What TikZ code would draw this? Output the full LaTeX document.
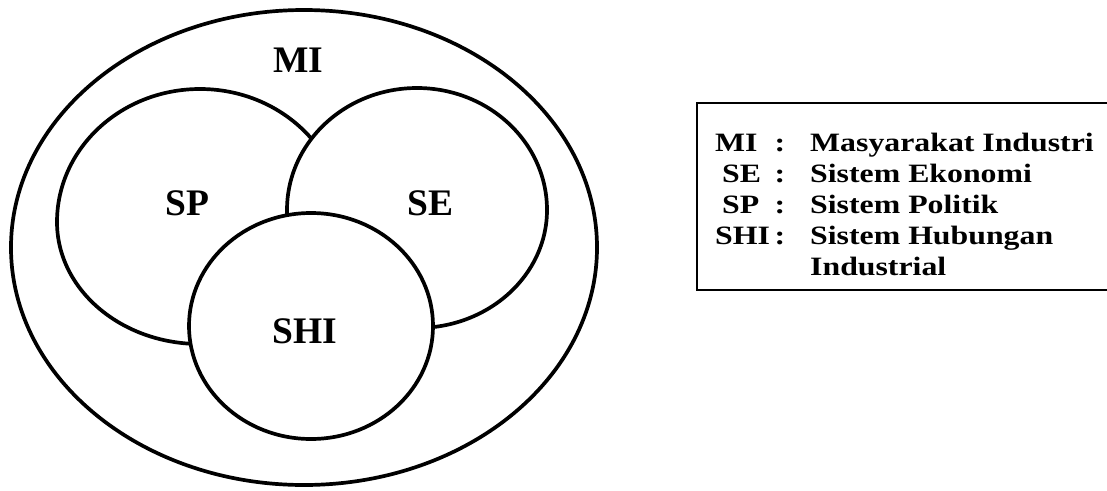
\documentclass[tikz,border=0pt]{standalone}
\usepackage{fontspec}
\setmainfont{Liberation Serif}
\newfontfamily\legendfont[FakeStretch=1.2]{Liberation Serif}
\begin{document}
\begin{tikzpicture}[x=1pt,y=-1pt,
  ring/.style={draw=black, line width=3.7pt},
  setlabel/.style={anchor=base, inner sep=0pt, font=\fontsize{37.5}{40}\selectfont\bfseries},
  keytext/.style={anchor=base west, inner sep=0pt, font=\legendfont\fontsize{26.5}{28}\selectfont\bfseries},
  keycolon/.style={anchor=base, inner sep=0pt, font=\legendfont\fontsize{26.5}{28}\selectfont\bfseries},
  keybox/.style={draw=black, line width=1.5pt}]
\useasboundingbox (0,0) rectangle (1107,490);

% outer set: industrial society
\draw[ring] (304,247.5) ellipse [x radius=293, y radius=237.5];

% political system (flatter lower half)
\draw[ring, fill=white] (57,222)
  arc[start angle=180, end angle=360, x radius=143, y radius=133]
  arc[start angle=0, end angle=180, x radius=143, y radius=122] -- cycle;

% economic system, laid over the political one
\draw[ring, fill=white] (287,210)
  arc[start angle=180, end angle=360, x radius=130, y radius=122]
  arc[start angle=0, end angle=180, x radius=130, y radius=118] -- cycle;

% industrial relations system, on top
\draw[ring, fill=white] (311,326) ellipse [x radius=122, y radius=113];

% set labels
\node[setlabel] (mi)  at (298,72.7) {MI};
\node[setlabel] (sp)  at (187.5,215) {SP};
\node[setlabel] (se)  at (430.5,215) {SE};
\node[setlabel] (shi) at (305,343.3) {SHI};

% key
\coordinate (boxtl) at (697,103);
\coordinate (boxbl) at (697,290);
\coordinate (boxtr) at (1110,103);
\coordinate (boxbr) at (1110,290);
\draw[keybox] (boxtr) -- (boxtl) -- (boxbl) -- (boxbr);

\node[keytext] (kmi)  at (715,151) {MI};
\node[keytext] (kse)  at (722,182) {SE};
\node[keytext] (ksp)  at (722,213) {SP};
\node[keytext] (kshi) at (715,244) {SHI};
\node[keycolon] (c1) at (780,151) {:};
\node[keycolon] (c2) at (780,182) {:};
\node[keycolon] (c3) at (780,213) {:};
\node[keycolon] (c4) at (780,244) {:};
\node[keytext] (t1) at (810,151) {Masyarakat Industri};
\node[keytext] (t2) at (810,182) {Sistem Ekonomi};
\node[keytext] (t3) at (810,213) {Sistem Politik};
\node[keytext] (t4) at (810,244) {Sistem Hubungan};
\node[keytext] (t5) at (810,275) {Industrial};
\end{tikzpicture}
\end{document}
